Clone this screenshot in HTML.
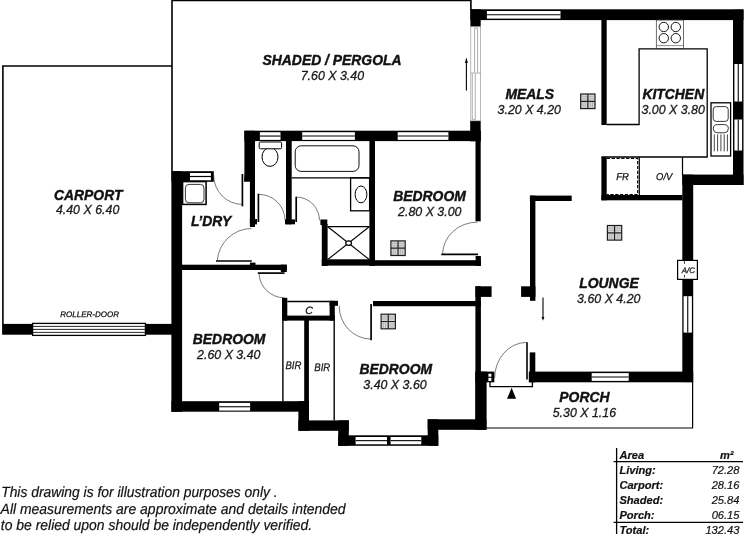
<!DOCTYPE html>
<html><head><meta charset="utf-8"><title>Floor plan</title>
<style>
html,body{margin:0;padding:0;background:#fff;}
body{width:750px;height:538px;overflow:hidden;}
svg{display:block;filter:grayscale(1);}
.lb{font-family:"Liberation Sans",Arial,sans-serif;font-weight:bold;font-style:italic;font-size:13.9px;fill:#111;text-anchor:middle;stroke:#111;stroke-width:0.4px;}
.dm{font-family:"Liberation Sans",Arial,sans-serif;font-style:italic;font-size:12.4px;fill:#1a1a1a;text-anchor:middle;stroke:#1a1a1a;stroke-width:0.3px;}
.sm{text-rendering:geometricPrecision;font-family:"Liberation Sans",Arial,sans-serif;font-style:italic;font-size:9.6px;fill:#111;text-anchor:middle;stroke:#111;stroke-width:0.25px;}
.nt{text-rendering:geometricPrecision;font-family:"Liberation Sans",Arial,sans-serif;font-style:italic;font-size:14.9px;fill:#111;stroke:#111;stroke-width:0.2px;}
.tl{font-family:"Liberation Sans",Arial,sans-serif;font-weight:bold;font-style:italic;font-size:11.1px;fill:#111;stroke:#111;stroke-width:0.2px;}
.tn{font-family:"Liberation Sans",Arial,sans-serif;font-style:italic;font-size:11.1px;fill:#111;text-anchor:end;stroke:#111;stroke-width:0.2px;}
.w{fill:#000;}
.t{fill:none;stroke:#000;stroke-width:1;}
.th{fill:none;stroke:#111;stroke-width:0.7;}
.win{fill:#fff;stroke:#000;stroke-width:0.8;}
</style></head><body>
<svg width="750" height="538" viewBox="0 0 750 538">
<rect width="750" height="538" fill="#fff"/>

<!-- thin outlines: carport, pergola, porch -->
<g id="outlines" class="t" stroke-width="1.2">
<path d="M2.9 324 V66 H172" style="stroke-width:1.6"/>
<path d="M172 171.5 V0.5 H470.9 V10" style="stroke-width:1.6"/>
<path d="M486.4 428 H692.6 V382" style="stroke-width:1.2"/>
</g>

<!-- WALLS -->
<g id="walls" class="w">
<!-- top & right exterior -->
<rect x="470.4" y="9.3" width="273.1" height="10.8"/>
<rect x="733" y="9.7" width="10.5" height="175.3"/>
<rect x="682.3" y="174.6" width="61.2" height="10.4"/>
<rect x="682.3" y="174.6" width="10.9" height="207.5"/>
<rect x="528.8" y="371.6" width="164.4" height="10.7"/>
<rect x="529.7" y="352.4" width="5.6" height="29.9"/>
<!-- meals left -->
<rect x="470.4" y="9.3" width="10.3" height="17.4"/>
<rect x="470.2" y="120.8" width="10.5" height="20.5"/>
<rect x="475.5" y="130.9" width="5.2" height="90.4"/>
<!-- bath/bed top wall -->
<rect x="244.4" y="130.7" width="236.2" height="10.4"/>
<!-- toilet left wall -->
<path d="M244.4 130.7 H255 V227 H249.9 V181.7 H244 L244.4 172 Z"/>
<rect x="249.9" y="219" width="7.1" height="5.4"/>
<!-- toilet/bath wall -->
<rect x="286" y="140" width="5.7" height="84.3"/>
<rect x="285" y="219.4" width="10" height="4.9"/>
<!-- bath/bedroom wall -->
<rect x="369.4" y="140" width="5.6" height="126"/>
<!-- shower -->
<rect x="321.8" y="224" width="5.8" height="42"/><rect x="320.4" y="219.5" width="6.9" height="5.5"/>
<rect x="321.8" y="259.3" width="53.2" height="6.3"/><rect x="374" y="260.2" width="106.9" height="5.6"/>
<rect x="475.6" y="256" width="5.3" height="9.9"/>
<!-- left wall laundry / bed2 -->
<rect x="171.4" y="171.2" width="10.7" height="240.6"/>
<rect x="171.4" y="171.2" width="42.4" height="10.6"/>
<!-- laundry / bed2 wall -->
<rect x="182" y="264.7" width="104.8" height="5.3"/>
<rect x="280.8" y="264.7" width="6" height="7.3"/>
<rect x="250" y="262.6" width="5.5" height="3"/>
<!-- closet C -->
<rect x="282" y="297.8" width="5.3" height="22.8"/>
<rect x="282" y="315.6" width="52.8" height="5"/>
<rect x="329.6" y="300.8" width="5.2" height="19.8"/>
<rect x="329.6" y="300.8" width="8.4" height="5"/>
<!-- BIR separator -->
<rect x="304.2" y="320" width="4.7" height="100.5"/>
<!-- bed 2 bottom -->
<rect x="171.4" y="401.2" width="137.6" height="10.5"/>
<rect x="298.4" y="401.2" width="10.6" height="29.6"/>
<rect x="298.4" y="420.4" width="50.4" height="10.4"/>
<!-- bay -->
<rect x="338.2" y="420.4" width="10.6" height="25.4"/>
<rect x="338.2" y="435.3" width="100.1" height="10.5"/>
<rect x="427.7" y="419.3" width="10.6" height="26.5"/>
<rect x="427.7" y="419.3" width="58.7" height="10.5"/>
<!-- bed 3 right -->
<rect x="475.4" y="286.3" width="5.5" height="140"/>
<rect x="475.4" y="371.6" width="11.2" height="58.2"/>
<rect x="475.4" y="286.3" width="16.2" height="10.6"/>
<rect x="475.4" y="371.6" width="18.9" height="10.7"/>
<!-- bed 3 top -->
<rect x="373" y="301" width="107.9" height="5.2"/>
<!-- lounge left -->
<rect x="530" y="195.6" width="5.4" height="105.2"/>
<rect x="521.1" y="286.3" width="14.3" height="10.6"/>
<rect x="529.9" y="195.6" width="41.8" height="5.4"/>
<!-- kitchen divider -->
<rect x="601.4" y="19" width="5.3" height="106"/>
<!-- FR -->
<rect x="601.4" y="157" width="5.3" height="43.3"/>
<rect x="601.4" y="195" width="81" height="5.3"/>
<!-- carport bottom -->
<rect x="2.1" y="323.9" width="30.5" height="10.8"/>
<rect x="145.4" y="323.9" width="26.6" height="10.8"/>
</g>

<!-- WINDOWS -->
<g id="windows">
<rect x="486.9" y="11.0" width="73.6" height="7.6" fill="#fff"/><path d="M486.9 14.80 H560.5" stroke="#000" stroke-width="1.1" fill="none"/>
<rect x="259.9" y="132.2" width="20.6" height="7.7" fill="#fff"/><path d="M259.9 136.05 H280.5" stroke="#000" stroke-width="1.1" fill="none"/>
<rect x="302.2" y="132.2" width="52.7" height="7.7" fill="#fff"/><path d="M302.2 136.05 H354.9" stroke="#000" stroke-width="1.1" fill="none"/>
<rect x="397.7" y="132.2" width="50.7" height="7.7" fill="#fff"/><path d="M397.7 136.05 H448.4" stroke="#000" stroke-width="1.1" fill="none"/>
<rect x="190" y="173" width="20.9" height="7.3" fill="#fff"/><path d="M190 176.5 H210.9" stroke="#000" stroke-width="1.2" fill="none"/>
<rect x="219.2" y="402.9" width="30.9" height="7.7" fill="#fff"/><path d="M219.2 406.75 H250.1" stroke="#000" stroke-width="1.1" fill="none"/>
<rect x="355.6" y="437.0" width="31.4" height="7.3" fill="#fff"/><path d="M355.6 440.65 H387.0" stroke="#000" stroke-width="1.1" fill="none"/>
<rect x="390.6" y="437.0" width="30.7" height="7.3" fill="#fff"/><path d="M390.6 440.65 H421.3" stroke="#000" stroke-width="1.1" fill="none"/>
<rect x="591.7" y="373.1" width="37.0" height="7.8" fill="#fff"/><path d="M591.7 377.00 H628.7" stroke="#000" stroke-width="1.1" fill="none"/>
<rect x="734.4" y="64.0" width="7.7" height="37.5" fill="#fff"/><path d="M738.25 64.0 V101.5" stroke="#000" stroke-width="1.1" fill="none"/>
<rect x="734.4" y="119.5" width="7.7" height="31.0" fill="#fff"/><path d="M738.25 119.5 V150.5" stroke="#000" stroke-width="1.1" fill="none"/>
<rect x="683.6" y="296.2" width="8.3" height="36.4" fill="#fff"/><path d="M687.75 296.2 V332.59999999999997" stroke="#000" stroke-width="1.1" fill="none"/>
<!-- tiny by door -->
<rect x="488.4" y="373.7" width="3" height="3" fill="#fff"/><rect x="488.4" y="377.8" width="3" height="3.2" fill="#fff"/>
<!-- sliding door -->
<rect x="470.8" y="26.8" width="9.8" height="94" fill="#fff" stroke="#9a9a9a" stroke-width="0.7"/>
<path d="M474.6 28.2 V72.5 M477.6 28.2 V72.5 M472.3 73.6 V119.4 M475.3 73.6 V119.4 M471 73 H480.7 M474.6 28.2 H477.6 M472.3 119.4 H475.3" fill="none" stroke="#8c8c8c" stroke-width="0.7"/>
<!-- roller door -->
<rect x="32.6" y="323.4" width="112.8" height="12" fill="#fff" stroke="#000" stroke-width="1.3"/>
<path d="M32.6 326.4 H145.4 M32.6 329.4 H145.4 M32.6 332.4 H145.4" fill="none" stroke="#111" stroke-width="0.9"/>
</g>

<!-- THIN INTERIOR LINES -->
<g id="thin" class="t">
<!-- kitchen bench -->
<path d="M606.7 124.5 H639.1 V48.9 H707.2 V157 H601.4" style="stroke-width:1.3"/>
<path d="M639.3 157.2 V195 M682.5 157.2 V175" style="stroke-width:1.2"/>
<path d="M606.9 158.3 H637.7 V194.6 H606.9" stroke-dasharray="3.2 1.6" style="stroke-width:1.2"/>
<!-- stove -->
<rect x="656.3" y="20" width="27.3" height="28.6" style="stroke-width:0.7;stroke:#333"/>
<path d="M656.3 45.6 H683.6" style="stroke-width:0.6;stroke:#444"/>
<circle cx="663.8" cy="27" r="4.7" style="stroke-width:0.9"/><circle cx="675.8" cy="27" r="4.7" style="stroke-width:0.9"/>
<circle cx="663.8" cy="38.2" r="4.7" style="stroke-width:0.9"/><circle cx="675.8" cy="38.2" r="4.7" style="stroke-width:0.9"/>
<!-- sink -->
<rect x="711" y="102.8" width="19.6" height="53.2" fill="#fff" style="fill:#fff;stroke-width:1.3"/>
<rect x="713.2" y="106.6" width="15" height="14.8" rx="3" style="stroke-width:0.9;stroke:#222"/>
<rect x="713.3" y="124.6" width="15" height="8.2" rx="4" style="stroke-width:0.9;stroke:#222"/>
<path d="M714.3 134.4 V151.3 M717.6 134.4 V151.3 M720.9 134.4 V151.3 M724.2 134.4 V151.3 M727.4 134.4 V151.3" style="stroke-width:0.9;stroke:#333"/>
<!-- bath -->
<path d="M291.6 177.8 H369.4" style="stroke-width:1.3"/>
<rect x="295.2" y="145.8" width="63.8" height="25.6" rx="6" style="stroke-width:1;stroke:#111"/>
<!-- vanity -->
<rect x="350.6" y="177.8" width="19" height="33" style="stroke-width:1.3"/>
<ellipse cx="361" cy="194.4" rx="5.9" ry="8.4" style="stroke-width:1"/>
<!-- shower -->
<path d="M327.4 226.6 H369.4" style="stroke-width:1.3"/>
<path d="M327.8 226.8 L369.2 259.5 M369.2 226.8 L327.8 259.5" style="stroke-width:1.1"/>
<ellipse cx="348.6" cy="243.1" rx="2.9" ry="2.3" style="fill:#fff;stroke-width:1.2"/>
<!-- toilet -->
<ellipse cx="270" cy="157" rx="8" ry="9.4" style="stroke-width:1"/>
<rect x="259.2" y="142" width="22.4" height="6.8" rx="1.2" style="fill:#fff;stroke-width:1"/>
<!-- washer -->
<rect x="182.6" y="181.6" width="23.5" height="22.8" style="stroke-width:1.5"/>
<rect x="185.4" y="184.4" width="18.6" height="18.4" rx="3.6" style="stroke-width:0.9;stroke:#222"/>
<!-- closets -->
<path d="M287.3 301.5 H329.6" style="stroke-width:1.3"/>
<path d="M282.9 320.6 V401.4 M334.2 320.6 V420.4" style="stroke-width:1.4"/>
<!-- door step -->
<path d="M490 381 V386.6 H532.4 V381" style="stroke-width:1.3"/>
<!-- A/C -->
<rect x="677.6" y="260.4" width="19.8" height="19" style="fill:#fff;stroke-width:1.2"/><path d="M684.5 261.2 V263.8 M684.5 275 V277.4" style="stroke-width:0.8"/>
</g>

<!-- DOORS -->
<g id="doors" fill="none" stroke="#222" stroke-width="0.6">
<!-- laundry ext door -->
<path d="M242.4 174 V206.4" stroke-width="1.7" stroke="#000"/>
<path d="M242.4 204.4 A28.7 29 0 0 1 213.7 175.4"/>
<!-- toilet door -->
<path d="M258.4 193.7 V222" stroke-width="1.7" stroke="#000"/>
<path d="M258.4 194.4 A26 26 0 0 1 285 220.3"/>
<!-- bath door -->
<path d="M296.2 196.8 V222" stroke-width="1.7" stroke="#000"/>
<path d="M296.2 197 A23.5 23.5 0 0 1 319.5 220.3"/>
<!-- laundry/hall door -->
<path d="M216 261 H251.8" stroke-width="1.7" stroke="#000"/>
<path d="M217.3 260.6 A34.5 34.5 0 0 1 251.4 228.5"/>
<!-- bed2 door -->
<path d="M257.8 273.1 H284.6" stroke-width="1.7" stroke="#000"/>
<path d="M259 273.2 A25.4 25.4 0 0 0 284.4 297.8"/>
<!-- bed3 door -->
<path d="M371.1 304 V340.3" stroke-width="1.7" stroke="#000"/>
<path d="M339.2 305.8 A32 33 0 0 0 371.1 339.1"/>
<!-- bed1 door -->
<path d="M441.3 254.3 H478" stroke-width="1.7" stroke="#000"/>
<path d="M442.6 254 A34.5 32.4 0 0 1 477.3 222.2"/>
<!-- front door -->
<path d="M527 342.3 V379.4" stroke-width="1.6" stroke="#000"/>
<path d="M526.4 342.4 A32 36 0 0 0 494.6 378"/>
</g>

<!-- arrows / markers -->
<g id="marks" fill="#000" stroke="#000">
<path d="M466.4 62 V90.6" stroke-width="1.1" fill="none"/><path d="M466.4 57.6 L464.9 63 H467.9 Z" stroke="none"/>
<path d="M543 297.4 V318" stroke-width="1.1" fill="none"/><path d="M543 320.8 L541.6 317 H544.4 Z" stroke="none"/>
<path d="M511.6 387.8 L507 398.8 H516.1 Z" stroke="none"/>
</g>

<!-- VENTS -->
<!-- VENTS -->
<g transform="translate(580.1 93.4)"><rect x="0.6" y="0.6" width="14.3" height="14.6" fill="#d4d4d4" stroke="#1c1c1c" stroke-width="1.2"/>
<path d="M1 3.2 H14.4 M1 5.4 H14.4 M3 8.4 V14.8 M5 8.4 V14.8 M10.4 8.4 V14.8 M12.4 8.4 V14.8" stroke="#a0a0a0" stroke-width="0.6" fill="none"/>
<path d="M7.75 0.6 V15.2 M0.6 7.9 H14.9" stroke="#222" stroke-width="1.2" fill="none"/></g>
<g transform="translate(390.3 240.3)"><rect x="0.6" y="0.6" width="14.3" height="14.6" fill="#d4d4d4" stroke="#1c1c1c" stroke-width="1.2"/>
<path d="M1 3.2 H14.4 M1 5.4 H14.4 M3 8.4 V14.8 M5 8.4 V14.8 M10.4 8.4 V14.8 M12.4 8.4 V14.8" stroke="#a0a0a0" stroke-width="0.6" fill="none"/>
<path d="M7.75 0.6 V15.2 M0.6 7.9 H14.9" stroke="#222" stroke-width="1.2" fill="none"/></g>
<g transform="translate(380.5 313.6)"><rect x="0.6" y="0.6" width="14.3" height="14.6" fill="#d4d4d4" stroke="#1c1c1c" stroke-width="1.2"/>
<path d="M1 3.2 H14.4 M1 5.4 H14.4 M3 8.4 V14.8 M5 8.4 V14.8 M10.4 8.4 V14.8 M12.4 8.4 V14.8" stroke="#a0a0a0" stroke-width="0.6" fill="none"/>
<path d="M7.75 0.6 V15.2 M0.6 7.9 H14.9" stroke="#222" stroke-width="1.2" fill="none"/></g>
<g transform="translate(606.8 224.9)"><rect x="0.6" y="0.6" width="14.3" height="14.6" fill="#d4d4d4" stroke="#1c1c1c" stroke-width="1.2"/>
<path d="M1 3.2 H14.4 M1 5.4 H14.4 M3 8.4 V14.8 M5 8.4 V14.8 M10.4 8.4 V14.8 M12.4 8.4 V14.8" stroke="#a0a0a0" stroke-width="0.6" fill="none"/>
<path d="M7.75 0.6 V15.2 M0.6 7.9 H14.9" stroke="#222" stroke-width="1.2" fill="none"/></g>

<!-- TEXT -->
<g id="text">
<text class="lb" x="332" y="65.2">SHADED / PERGOLA</text>
<text class="dm" x="332.4" y="79.9">7.60 X 3.40</text>
<text class="lb" x="88.2" y="199.8">CARPORT</text>
<text class="dm" x="87.6" y="214.3">4.40 X 6.40</text>
<text class="lb" x="529.7" y="99">MEALS</text>
<text class="dm" x="529.3" y="113.6">3.20 X 4.20</text>
<text class="lb" x="673.3" y="99">KITCHEN</text>
<text class="dm" x="673.2" y="113.6">3.00 X 3.80</text>
<text class="lb" x="429.5" y="201">BEDROOM</text>
<text class="dm" x="429.8" y="216">2.80 X 3.00</text>
<text class="lb" x="211.1" y="225.8">L’DRY</text>
<text class="lb" x="609" y="287.6">LOUNGE</text>
<text class="dm" x="608.8" y="302.6">3.60 X 4.20</text>
<text class="lb" x="229.1" y="344.2">BEDROOM</text>
<text class="dm" x="228.8" y="359">2.60 X 3.40</text>
<text class="lb" x="395.8" y="373.5">BEDROOM</text>
<text class="dm" x="395" y="388.6">3.40 X 3.60</text>
<text class="lb" x="584.4" y="401.5">PORCH</text>
<text class="dm" x="584.4" y="416.6">5.30 X 1.16</text>
<text class="sm" x="622.5" y="179.8" style="font-size:10px" textLength="12.6" lengthAdjust="spacingAndGlyphs">FR</text>
<text class="sm" x="664.2" y="179.8" style="font-size:10px" textLength="16.2" lengthAdjust="spacingAndGlyphs">O/V</text>
<text class="sm" x="309" y="313.8" style="font-size:10.6px">C</text>
<text class="sm" x="293.4" y="369" style="font-size:11px" textLength="16" lengthAdjust="spacingAndGlyphs">BIR</text>
<text class="sm" x="322.3" y="371" style="font-size:11px" textLength="16" lengthAdjust="spacingAndGlyphs">BIR</text>
<text class="sm" x="688.3" y="273.1" style="font-size:8px">A/C</text>
<text class="sm" x="89.6" y="316.9" style="font-size:8px">ROLLER-DOOR</text>
<text class="nt" x="1.2" y="497.4" textLength="276.5" lengthAdjust="spacingAndGlyphs">This drawing is for illustration purposes only .</text>
<text class="nt" x="0.6" y="514" textLength="345" lengthAdjust="spacingAndGlyphs">All measurements are approximate and details intended</text>
<text class="nt" x="0.8" y="530.2" textLength="311.4" lengthAdjust="spacingAndGlyphs">to be relied upon should be independently verified.</text>
</g>

<!-- AREA TABLE -->
<g id="table">
<path d="M616.6 448 V534 M613.6 461.6 H743 M613.6 522.4 H743" stroke="#000" stroke-width="1.3" fill="none"/>
<text class="tl" x="619.4" y="458.5">Area</text>
<text class="tl" x="720" y="458.5">m²</text>
<text class="tl" x="619.4" y="473.9">Living:</text><text class="tn" x="739.4" y="473.9">72.28</text>
<text class="tl" x="619.4" y="488.9">Carport:</text><text class="tn" x="739.4" y="488.9">28.16</text>
<text class="tl" x="619.4" y="503.9">Shaded:</text><text class="tn" x="739.4" y="503.9">25.84</text>
<text class="tl" x="619.4" y="518.9">Porch:</text><text class="tn" x="739.4" y="518.9">06.15</text>
<text class="tl" x="619.4" y="533.9">Total:</text><text class="tn" x="739.4" y="533.9">132.43</text>
</g>
</svg>
</body></html>
